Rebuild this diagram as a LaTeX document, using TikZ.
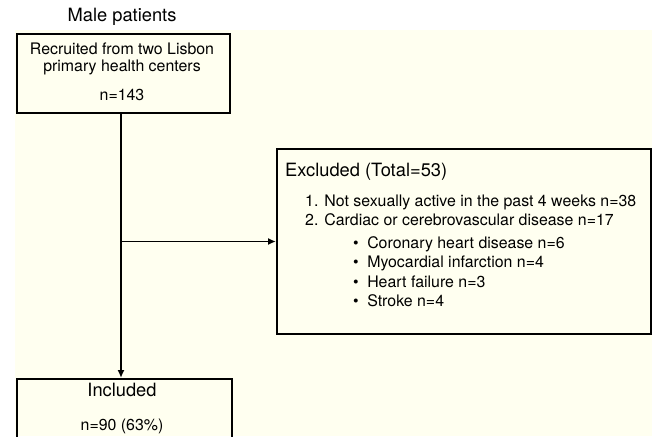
\documentclass[tikz,border=0pt]{standalone}
\usepackage{fontspec}
\setmainfont{TeX Gyre Heros}
\usepackage{tikz}
\usetikzlibrary{arrows.meta,positioning}
\definecolor{ivory}{RGB}{255,255,240}
\tikzset{
  fbox2/.style={draw=black, line width=2pt, anchor=north west, inner sep=0pt},
  ftxt/.style={font=\fontsize{15.9}{16}\selectfont, inner sep=0pt, anchor=base},
  fhead/.style={font=\fontsize{18.3}{19}\selectfont, inner sep=0pt, anchor=base},
  farr/.style={-{Latex[length=8pt,width=7pt]}, line width=1.8pt}
}

\begin{document}
\begin{tikzpicture}[x=1pt,y=-1pt]
\useasboundingbox (0,0) rectangle (652,436);
\fill[ivory] (15,30) rectangle (652,436);

% boxes
\node[fbox2, minimum width=213pt, minimum height=79pt] (recruit) at (16,33) {};
\node[fbox2, minimum width=374pt, minimum height=185pt] (excl) at (276,148) {};
\node[fbox2, minimum width=215pt, minimum height=70pt] (incl) at (16,378) {};

% texts
\node[fhead] (title) at (122,22) {Male patients};
\node[ftxt] (rec1) at (122,55) {Recruited from two Lisbon};
\node[ftxt] (rec2) at (122,71) {primary health centers};
\node[ftxt] (recn) at (122,100) {n=143};
\node[fhead, anchor=base west] (extitle) at (285,176) {Excluded (Total=53)};
\node[ftxt, anchor=base west] (ex1) at (305,206) {1. Not sexually active in the past 4 weeks n=38};
\node[ftxt, anchor=base west] (ex2) at (305,225) {2. Cardiac or cerebrovascular disease n=17};
\foreach \txt [count=\i] in {Coronary heart disease n=6, Myocardial infarction n=4, Heart failure n=3, Stroke n=4}
  \node[ftxt, anchor=base west] (bul\i) at (353,228.5+19.5*\i) {\textbullet\hspace{8.5pt}\txt};
\node[fhead] (inctitle) at (122,396) {Included};
\node[ftxt] (incn) at (122,430) {n=90 (63\%)};

% connectors
\coordinate (stem) at ([xshift=-2.5pt]recruit.south);
\coordinate (split) at (stem |- excl.west);
\draw[farr] (stem) -- (stem |- incl.north);
\draw[farr] (split) -- (excl.west);
\end{tikzpicture}
\end{document}
